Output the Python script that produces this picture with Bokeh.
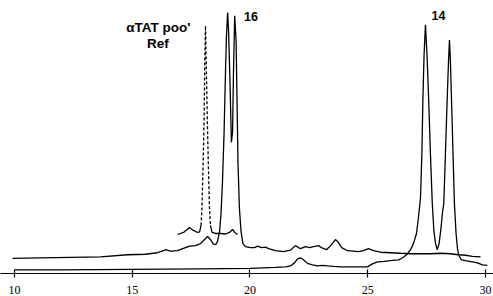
from bokeh.plotting import figure
from bokeh.models import Range1d, FixedTicker
from bokeh.embed import file_html
from bokeh.resources import INLINE
from bokeh.core.properties import value

# ---- data (retention time in min, detector signal in arbitrary units)
trace16_time = [9.92, 11.10, 12.38, 13.65, 14.80, 15.56, 16.07, 16.33, 16.41, 16.62,
                16.92, 17.26, 17.43, 17.69, 17.90, 18.07, 18.20, 18.32, 18.45,
                18.54, 18.62, 18.71, 18.77, 18.83, 18.90, 18.96, 19.00, 19.05, 19.09,
                19.15, 19.21, 19.26, 19.30, 19.35, 19.41, 19.45, 19.49, 19.55, 19.62,
                19.70, 19.81,
                20.02, 20.19, 20.32, 20.49, 20.66, 20.79, 21.08, 21.42, 21.72, 21.93,
                22.14, 22.36, 22.53, 22.70, 22.91, 23.08, 23.25, 23.42, 23.63, 23.76,
                23.89, 24.14, 24.61, 24.82, 25.03, 25.24, 25.54, 25.97, 26.39, 26.82,
                27.24, 27.66, 28.09, 28.51, 28.85, 29.15, 29.45, 29.79]
trace16_signal = [15, 15.5, 16, 16.5, 18.5, 19, 20.5, 22.5, 23.5, 22,
                  22.5, 25.5, 27, 27.5, 29.5, 33.5, 36.5, 33.5, 29,
                  28.5, 31.5, 41.5, 59.5, 89.5, 139.5, 199.5, 234.5, 257.5, 239.5,
                  189.5, 129.5, 139.5, 199.5, 254.5, 229.5, 169.5, 109.5, 64.5, 41.5,
                  29.5, 26.5,
                  25.5, 25.5, 27, 25.5, 26, 24.5, 22.5, 21.5, 23, 27.5,
                  24.5, 26.5, 25.5, 26.5, 27.5, 25, 23.5, 27.5, 33.5, 30.5,
                  25.5, 22.5, 21.5, 22.5, 24.5, 22.5, 21, 20.5, 20, 19.5,
                  19.5, 19.5, 20, 19.5, 18.5, 18, 17, 16.5]

trace14_time = [10.00, 11.95, 14.93, 17.90, 20.02, 21.08, 21.51, 21.72, 21.89, 22.02,
                22.14, 22.27, 22.44, 22.65, 22.87, 23.08, 23.29, 23.55, 23.84, 24.27,
                24.69, 24.99, 25.20, 25.41, 25.71, 26.05, 26.31, 26.52, 26.69, 26.82,
                26.94, 27.07, 27.15, 27.24, 27.30, 27.34, 27.39, 27.45, 27.52, 27.59,
                27.66, 27.74, 27.81, 27.88, 27.95, 28.03, 28.11, 28.17, 28.23, 28.30,
                28.37, 28.43, 28.47, 28.51, 28.56, 28.62, 28.68, 28.75, 28.81, 28.87,
                28.98, 29.19, 29.45, 29.66, 29.87, 30.08]
trace14_signal = [3.5, 3.5, 4, 4.5, 5, 6, 6.5, 7.5, 10.5, 14.5,
                  15.5, 13.5, 10, 8.5, 7.5, 8, 7.5, 7, 6.5, 6.5,
                  6.5, 6.5, 9.5, 11.5, 12, 13, 13.5, 16, 19.5, 23.5,
                  29.5, 39.5, 54.5, 74.5, 119.5, 169.5, 214.5, 245.5, 214.5, 169.5,
                  119.5, 69.5, 41.5, 29.5, 23.5, 29.5, 44.5, 59.5, 69.5, 119.5,
                  169.5, 209.5, 230.5, 209.5, 169.5, 119.5, 69.5, 39.5, 24.5, 17.5,
                  13.5, 12.5, 11.5, 10.5, 8.5, 8]

ref_time = [16.92, 17.18, 17.43, 17.60, 17.77, 17.86, 17.92, 17.96, 18.00, 18.05,
            18.08, 18.11, 18.14, 18.19, 18.24, 18.28, 18.32, 18.39, 18.54, 18.75,
            18.96, 19.13, 19.26, 19.35, 19.47]
ref_signal = [38.5, 40.5, 45.5, 42.5, 40.5, 41, 47.5, 64.5, 99.5, 149.5,
              209.5, 244.5, 209.5, 149.5, 99.5, 64.5, 47.5, 40.5, 39.5, 39.5,
              39, 40.5, 43.5, 40.5, 38.5]

tick_values = [10, 15, 20, 25, 30]
label_texts = ["\u03b1TAT poo'", "Ref", "16", "14"]

# ---- figure
p = figure(width=493, height=296, output_backend="svg", toolbar_location=None,
           x_range=Range1d(9.4055, 30.340), y_range=Range1d(0, 269.5),
           y_axis_location=None, min_border=0)
p.min_border_left = 0
p.min_border_right = 0
p.min_border_top = 0
p.min_border_bottom = 0
p.outline_line_color = None
p.grid.visible = False
p.background_fill_color = "white"
p.border_fill_color = "white"

ax = p.xaxis[0]
ax.ticker = FixedTicker(ticks=tick_values)
ax.minor_tick_line_color = None
ax.axis_line_color = "black"
ax.axis_line_width = 1.2
ax.major_tick_line_color = "black"
ax.major_tick_line_width = 1.2
ax.major_tick_in = 4
ax.major_tick_out = 4
ax.major_label_standoff = 8
ax.major_label_text_font = "Liberation Serif"
ax.major_label_text_font_size = "12px"
ax.major_label_text_color = "black"

lw = 1.3
p.line(trace16_time, trace16_signal, line_color="black", line_width=lw)
p.line(trace14_time, trace14_signal, line_color="black", line_width=lw)

# reference trace: solid baseline, dashed peak
hi = [i for i, v in enumerate(ref_signal) if v > 50]
a, b = hi[0] - 1, hi[-1] + 1
p.line(ref_time[:a + 1], ref_signal[:a + 1], line_color="black", line_width=lw)
p.line(ref_time[a:b + 1], ref_signal[a:b + 1], line_color="black", line_width=lw,
       line_dash="3 2")
p.line(ref_time[b:], ref_signal[b:], line_color="black", line_width=lw)

p.text(x=[16.11, 16.09], y=[242.5, 227.5], text=label_texts[:2],
       text_font=value("Liberation Sans"), text_font_style="bold",
       text_font_size="13.5px", text_align="center", text_baseline="middle",
       text_color="black")
p.text(x=[20.04, 28.00], y=[253.5, 255.0], text=label_texts[2:],
       text_font=value("Liberation Sans"), text_font_style="bold",
       text_font_size="12.5px", text_align="center", text_baseline="middle",
       text_color="black")

open("out.html", "w").write(file_html(p, INLINE))
